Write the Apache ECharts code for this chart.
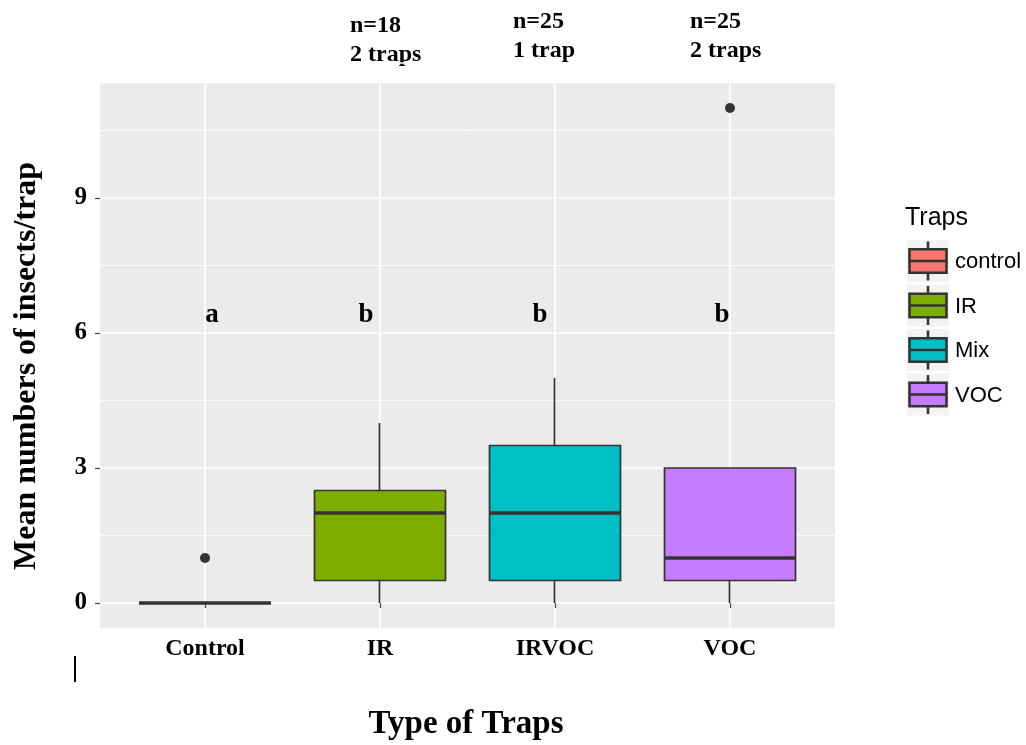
<!DOCTYPE html>
<html>
<head>
<meta charset="utf-8">
<script src="https://cdn.jsdelivr.net/npm/echarts@6/dist/echarts.min.js"></script>
<style>
html,body{margin:0;padding:0;background:#fff;}
#chart{width:1026px;height:745px;}
</style>
</head>
<body>
<div id="chart"></div>
<script>
// ---- data ----
const categories = ['Control', 'IR', 'IRVOC', 'VOC'];
const whiskerLow = [0, 0, 0, 0];
const lowerQuartile = [0, 0.5, 0.5, 0.5];
const medianValues = [0, 2, 2, 1];
const upperQuartile = [0, 2.5, 3.5, 3];
const whiskerHigh = [0, 4, 5, 3];
const outlierCategories = ['Control', 'VOC'];
const outlierValues = [1, 11];
const legendLabels = ['control', 'IR', 'Mix', 'VOC'];
const boxColors = ['#F8766D', '#7CAE00', '#00BFC4', '#C77CFF'];
const yTickValues = [0, 3, 6, 9];
const significanceLetters = ['a', 'b', 'b', 'b'];
const sampleNotes = ['n=18\n2 traps', 'n=25\n1 trap', 'n=25\n2 traps'];
const yTitle = 'Mean numbers of insects/trap';
const xTitle = 'Type of Traps';
const legendTitle = 'Traps';

// ---- layout (pixels) ----
const SERIF = '"Liberation Serif", "Times New Roman", serif';
const SANS = '"Liberation Sans", Arial, sans-serif';
const plotLeft = 100, plotWidth = 735, plotTop = 83.25, plotHeight = 544.5;
const pxPerUnit = 45, zeroY = 603;
const yMin = -0.55, yMax = 11.55;
const bandWidth = 175;
const boxWidth = 132;
const letterX = [212, 366, 540, 722];
const letterY = 315;
const noteXY = [[350, 11], [513, 7], [690, 7]];

const chart = echarts.init(document.getElementById('chart'), null, {renderer: 'canvas'});

const tickStep = yTickValues[1] - yTickValues[0];
const candleData = categories.map((c, i) => ({
  value: [lowerQuartile[i], upperQuartile[i], whiskerLow[i], whiskerHigh[i]],
  itemStyle: {
    color: boxColors[i], color0: boxColors[i],
    borderColor: '#333333', borderColor0: '#333333', borderColorDoji: '#333333',
    borderWidth: 1.7
  }
}));
const medianData = categories.map((c, i) => [c, medianValues[i]]);
const outlierData = outlierCategories.map((c, i) => [c, outlierValues[i]]);

const graphics = [];
// y-axis title
graphics.push({
  type: 'text', x: 27, y: 366, rotation: Math.PI / 2, silent: true,
  style: {text: yTitle, x: 0, y: 0, align: 'center', verticalAlign: 'middle',
    font: 'bold 32px ' + SERIF, fill: '#000'}
});
// x-axis title
graphics.push({
  type: 'text', silent: true,
  style: {text: xTitle, x: 466, y: 724, align: 'center', verticalAlign: 'middle',
    font: 'bold 33px ' + SERIF, fill: '#000'}
});
// significance letters
significanceLetters.forEach((t, i) => {
  graphics.push({type: 'text', silent: true,
    style: {text: t, x: letterX[i], y: letterY, align: 'center', verticalAlign: 'middle',
      font: 'bold 27px ' + SERIF, fill: '#000'}});
});
// sample notes
sampleNotes.forEach((t, i) => {
  graphics.push({type: 'text', silent: true,
    style: {text: t, x: noteXY[i][0], y: noteXY[i][1], align: 'left', verticalAlign: 'top',
      lineHeight: 29, font: 'bold 24px ' + SERIF, fill: '#000'}});
});
// legend
graphics.push({type: 'text', silent: true,
  style: {text: legendTitle, x: 905, y: 218, align: 'left', verticalAlign: 'middle',
    font: '25px ' + SANS, fill: '#000'}});
legendLabels.forEach((name, i) => {
  const top = 240 + 44.5 * i;
  graphics.push({type: 'rect', silent: true, shape: {x: 907, y: top, width: 42, height: 42},
    style: {fill: '#F2F2F2'}});
  graphics.push({type: 'line', silent: true, shape: {x1: 928, y1: top + 1.5, x2: 928, y2: top + 40.5},
    style: {stroke: '#333', lineWidth: 2.6}});
  graphics.push({type: 'rect', silent: true, shape: {x: 909.5, y: top + 9.3, width: 37, height: 23.4},
    style: {fill: boxColors[i], stroke: '#333', lineWidth: 2.6}});
  graphics.push({type: 'line', silent: true, shape: {x1: 909.5, y1: top + 21, x2: 946.5, y2: top + 21},
    style: {stroke: '#333', lineWidth: 2.6}});
  graphics.push({type: 'text', silent: true,
    style: {text: name, x: 955, y: top + 22, align: 'left', verticalAlign: 'middle',
      font: '22px ' + SANS, fill: '#000'}});
});
// stray mark present in the reference image
graphics.push({type: 'line', silent: true, shape: {x1: 75, y1: 656, x2: 75, y2: 682},
  style: {stroke: '#000', lineWidth: 2}});

const hidden = {show: false};
const option = {
  animation: false,
  backgroundColor: '#ffffff',
  grid: [
    // 0: grey panel
    {left: plotLeft, top: plotTop, width: plotWidth, height: plotHeight, show: true,
      backgroundColor: '#EBEBEB', borderWidth: 0, z: 0},
    // 1: horizontal grid lines (0..12 mapped so that 0 sits at zeroY)
    {left: plotLeft, top: zeroY - 12 * pxPerUnit, width: plotWidth, height: 12 * pxPerUnit},
    // 2: vertical grid lines through the category centres
    {left: plotLeft + 0.6 * bandWidth, top: plotTop, width: 3 * bandWidth, height: plotHeight},
    // 3: data
    {left: plotLeft + 0.1 * bandWidth, top: plotTop, width: 4 * bandWidth, height: plotHeight},
    // 4: y tick labels (0..9)
    {left: plotLeft, top: zeroY - yTickValues[yTickValues.length - 1] * pxPerUnit,
      width: plotWidth, height: yTickValues[yTickValues.length - 1] * pxPerUnit}
  ],
  xAxis: [
    {gridIndex: 0, type: 'value', min: 0, max: 1, show: false},
    {gridIndex: 1, type: 'value', min: 0, max: 1, show: false},
    {gridIndex: 2, type: 'value', min: 0, max: 3, interval: 1, z: 1,
      axisLine: hidden, axisTick: hidden, axisLabel: hidden,
      splitLine: {show: true, lineStyle: {color: '#ffffff', width: 1.7}}},
    {gridIndex: 3, type: 'category', data: categories, boundaryGap: true, z: 1,
      axisLine: hidden,
      axisTick: {show: true, alignWithLabel: true, length: 5, lineStyle: {color: '#444', width: 1.2}},
      axisLabel: {show: true, margin: 9, color: '#000', fontFamily: SERIF, fontWeight: 'bold', fontSize: 24},
      splitLine: hidden},
    {gridIndex: 4, type: 'value', min: 0, max: 1, show: false}
  ],
  yAxis: [
    {gridIndex: 0, type: 'value', min: 0, max: 1, show: false},
    {gridIndex: 1, type: 'value', min: 0, max: 12, interval: tickStep, z: 1,
      axisLine: hidden, axisTick: hidden, axisLabel: hidden,
      splitLine: {show: true, lineStyle: {color: '#ffffff', width: 1.7}},
      minorTick: {show: false, splitNumber: 2},
      minorSplitLine: {show: true, lineStyle: {color: '#ffffff', width: 0.8}}},
    {gridIndex: 2, type: 'value', min: 0, max: 1, show: false},
    {gridIndex: 3, type: 'value', min: yMin, max: yMax, show: false},
    {gridIndex: 4, type: 'value', min: yTickValues[0], max: yTickValues[yTickValues.length - 1],
      interval: tickStep, z: 1,
      axisLine: hidden,
      axisTick: {show: true, length: 5, lineStyle: {color: '#444', width: 1.2}},
      axisLabel: {show: true, margin: 13, color: '#000', fontFamily: SERIF, fontWeight: 'bold', fontSize: 25},
      splitLine: hidden}
  ],
  series: [
    {type: 'candlestick', xAxisIndex: 3, yAxisIndex: 3, barWidth: boxWidth, barMaxWidth: 300,
      data: candleData, z: 2},
    {type: 'scatter', xAxisIndex: 3, yAxisIndex: 3, symbol: 'rect', symbolSize: [boxWidth, 3.5],
      itemStyle: {color: '#333333', opacity: 1}, data: medianData, z: 3},
    {type: 'scatter', xAxisIndex: 3, yAxisIndex: 3, symbol: 'circle', symbolSize: 10,
      itemStyle: {color: '#333333', opacity: 1}, data: outlierData, z: 3}
  ],
  graphic: graphics
};
chart.setOption(option);
</script>
</body>
</html>
